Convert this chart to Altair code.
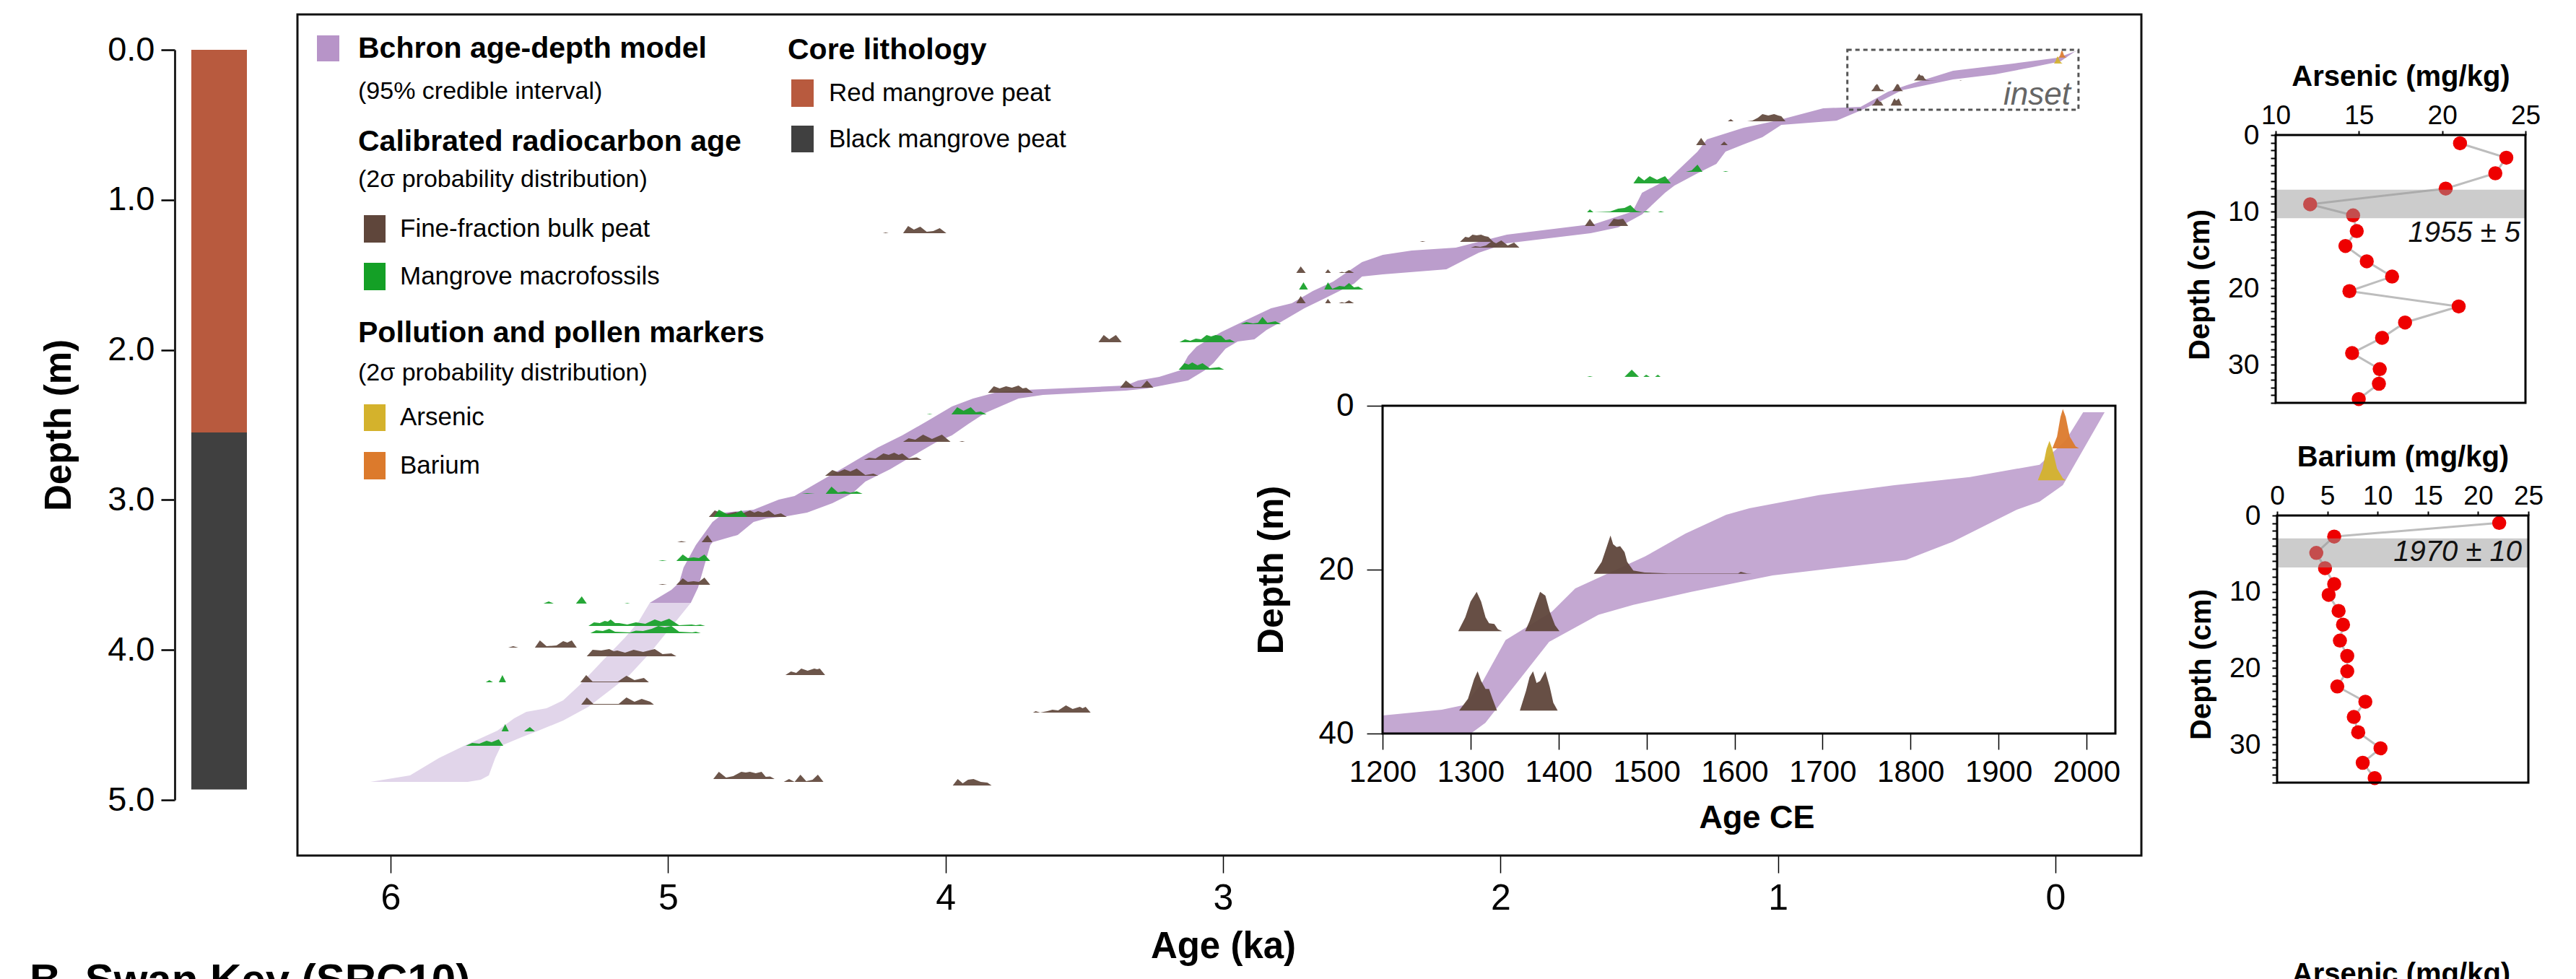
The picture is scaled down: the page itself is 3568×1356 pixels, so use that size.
import altair as alt
import pandas as pd

W, H = 3568, 1356
FONT = "Liberation Sans, Arial, sans-serif"

# ------------------------------------------------------------------ data
# core lithology (m)
litho_top = [0.0, 2.55]
litho_bottom = [2.55, 4.93]
litho_type = ["Red mangrove peat", "Black mangrove peat"]

# Bchron 95% band, upper part: older edge (top -> bottom), younger edge (bottom -> top); age ka, depth m
band_old_age = [-0.086, -0.008, 0.151, 0.369, 0.536, 0.603, 0.702, 0.837, 1.004, 1.124, 1.256, 1.290,
                1.391, 1.490, 1.524, 1.659, 1.977, 2.161, 2.320, 2.424, 2.499, 2.603, 2.676, 2.752,
                2.827, 2.915, 3.007, 3.095, 3.126, 3.155, 3.230, 3.306, 3.350, 3.649, 3.709, 3.813,
                3.901, 3.977, 4.065, 4.156, 4.245, 4.364, 4.468, 4.544, 4.601, 4.692, 4.796, 4.840,
                4.900, 4.944, 4.960, 4.988, 5.066]
band_old_depth = [0.000, 0.053, 0.091, 0.140, 0.236, 0.279, 0.380, 0.390, 0.472, 0.520, 0.597, 0.679,
                  0.857, 0.953, 1.078, 1.160, 1.232, 1.319, 1.338, 1.367, 1.415, 1.545, 1.607, 1.689,
                  1.723, 1.800, 1.882, 1.978, 2.040, 2.137, 2.180, 2.204, 2.238, 2.262, 2.267, 2.281,
                  2.324, 2.377, 2.474, 2.570, 2.652, 2.782, 2.892, 2.974, 2.998, 3.065, 3.085, 3.147,
                  3.301, 3.450, 3.551, 3.600, 3.686]
band_young_age = [4.918, 4.892, 4.848, 4.840, 4.749, 4.692, 4.645, 4.572, 4.499, 4.408, 4.335, 4.289,
                  4.200, 4.112, 4.036, 3.977, 3.917, 3.857, 3.737, 3.649, 3.350, 3.274, 3.126, 3.066,
                  3.035, 2.991, 2.947, 2.887, 2.843, 2.796, 2.707, 2.632, 2.528, 2.499, 2.424, 2.195,
                  2.078, 1.977, 1.675, 1.576, 1.490, 1.407, 1.373, 1.290, 1.222, 1.189, 1.124, 1.056,
                  0.988, 0.788, 0.702, 0.619, 0.554, 0.369, 0.218, 0.083, -0.018, -0.068]
band_young_depth = [3.686, 3.585, 3.301, 3.282, 3.234, 3.147, 3.123, 3.109, 3.085, 3.022, 2.955, 2.878,
                    2.796, 2.700, 2.618, 2.570, 2.493, 2.421, 2.324, 2.300, 2.271, 2.257, 2.204, 2.137,
                    2.089, 1.992, 1.944, 1.930, 1.867, 1.819, 1.723, 1.655, 1.559, 1.511, 1.497, 1.463,
                    1.352, 1.290, 1.222, 1.184, 1.097, 0.953, 0.905, 0.823, 0.760, 0.679, 0.630, 0.582,
                    0.500, 0.472, 0.404, 0.332, 0.269, 0.197, 0.164, 0.115, 0.077, 0.014]
# lower (extrapolated) part of the band
low_old_age = [5.066, 5.108, 5.155, 5.243, 5.319, 5.378, 5.438, 5.511, 5.555, 5.615, 5.735, 5.826, 5.930, 6.073]
low_old_depth = [3.686, 3.816, 3.917, 4.086, 4.235, 4.336, 4.389, 4.413, 4.456, 4.538, 4.639, 4.721, 4.836, 4.880]
low_young_age = [5.722, 5.675, 5.646, 5.623, 5.602, 5.527, 5.467, 5.378, 5.287, 5.199, 5.139, 5.064, 5.020, 4.960, 4.918]
low_young_depth = [4.880, 4.865, 4.836, 4.721, 4.639, 4.581, 4.538, 4.471, 4.379, 4.254, 4.167, 4.018, 3.917, 3.782, 3.686]

# inset band (age CE, depth cm)
inset_old_ce = [1996.2, 1976.4, 1946.7, 1867.5, 1781.8, 1696.0, 1616.9, 1590.5, 1544.3, 1498.2, 1419.0,
                1392.6, 1339.8, 1313.5, 1293.7, 1267.3, 1200.0, 1200.0]
inset_old_cm = [0.8, 4.2, 7.2, 8.7, 9.7, 10.9, 12.5, 13.3, 15.6, 18.4, 22.3, 25.1, 28.6, 33.7, 36.5, 37.1, 37.8, 40.0]
inset_young_ce = [1300.3, 1316.8, 1389.3, 1445.4, 1485.0, 1550.9, 1643.3, 1795.0, 1847.8, 1920.3, 1946.7, 1973.1, 2020.6]
inset_young_cm = [40.0, 38.7, 28.8, 25.5, 24.3, 22.7, 20.7, 18.8, 16.6, 12.7, 11.7, 9.7, 0.8]

# calibrated age probability distributions: kind, sample depth (m), age (ka) vertices, relative density
kind_names = ["Fine-fraction bulk peat", "Mangrove macrofossils", "Arsenic", "Barium"]
kind_colors = ["#5f463b", "#14a026", "#d4b22c", "#dc7a2c"]
date_kind = ["B", "M", "B", "M", "B", "M", "B", "M", "M", "M",
             "B", "B", "B", "M", "B", "B", "M", "M", "B", "B",
             "B", "B", "B", "B", "B", "M", "B", "M", "M", "M",
             "B", "B", "M", "B", "B", "B", "B", "B", "M", "M",
             "M", "B", "B", "M", "B", "B", "B", "Ba", "As"]
date_depth = [2.839, 2.960, 3.114, 3.114, 3.282, 3.407, 3.566, 3.691, 3.840, 3.888,
              3.985, 4.042, 4.167, 4.216, 4.216, 4.365, 4.543, 4.639, 4.860, 4.880,
              4.904, 4.418, 1.222, 1.949, 1.487, 1.598, 1.689, 1.829, 1.949, 2.132,
              2.252, 2.286, 2.430, 2.613, 2.733, 1.280, 1.319, 1.174, 1.083, 0.890,
              0.813, 0.635, 0.476, 2.180, 0.205, 0.275, 0.372, 0.052, 0.091]
date_age = [
    [4.434, 4.408, 4.388, 4.364, 4.343, 4.320, 4.289, 4.260, 4.242],
    [4.518, 4.499, 4.471, 4.432, 4.411, 4.388, 4.364, 4.343, 4.320, 4.299],
    [4.853, 4.832, 4.796, 4.757, 4.731, 4.705, 4.689, 4.676, 4.658, 4.637, 4.616, 4.593, 4.572],
    [4.835, 4.817, 4.783, 4.757, 4.736, 4.715],
    [4.967, 4.952, 4.934, 4.879, 4.858, 4.840],
    [5.035, 5.020, 5.004, 4.970, 4.947, 4.929, 4.908, 4.889, 4.869, 4.848],
    [5.035, 5.020, 5.004, 4.970, 4.947, 4.929, 4.908, 4.889, 4.869, 4.848],
    [5.449, 5.430, 5.412, 5.332, 5.311, 5.293, 5.157, 5.147, 5.137],
    [5.287, 5.267, 5.246, 5.228, 5.217, 5.207, 5.191, 5.176, 5.147, 5.116, 5.082, 5.048, 5.025, 4.996,
     4.960, 4.915, 4.900, 4.884, 4.866],
    [5.280, 5.259, 5.235, 5.212, 5.191, 5.137, 5.116, 5.090, 5.059, 5.035, 5.012, 4.988, 4.960, 4.913,
     4.900, 4.882],
    [5.576, 5.558, 5.540, 5.480, 5.462, 5.438, 5.402, 5.378, 5.363, 5.347, 5.329],
    [5.293, 5.272, 5.241, 5.212, 5.196, 5.183, 5.155, 5.124, 5.090, 5.048, 5.020, 4.988, 4.970],
    [4.577, 4.557, 4.538, 4.520, 4.497, 4.473, 4.463, 4.453, 4.434],
    [5.657, 5.644, 5.631, 5.610, 5.597, 5.584],
    [5.316, 5.295, 5.272, 5.228, 5.181, 5.150, 5.121, 5.087, 5.069],
    [5.313, 5.293, 5.269, 5.228, 5.178, 5.150, 5.121, 5.095, 5.064, 5.051],
    [5.600, 5.587, 5.574, 5.519, 5.498, 5.480],
    [5.729, 5.706, 5.680, 5.654, 5.636, 5.610, 5.594],
    [4.837, 4.817, 4.791, 4.765, 4.736, 4.720, 4.705, 4.684, 4.663, 4.648, 4.632, 4.616],
    [4.583, 4.564, 4.544, 4.523, 4.502, 4.479, 4.460, 4.440],
    [3.974, 3.956, 3.938, 3.919, 3.899, 3.873, 3.849, 3.834],
    [3.685, 3.675, 3.659, 3.633, 3.615, 3.594, 3.566, 3.542, 3.516, 3.506, 3.495, 3.477],
    [4.226, 4.216, 4.205, 4.153, 4.135, 4.114, 4.091, 4.068, 4.044, 4.021, 3.997],
    [3.449, 3.430, 3.410, 3.386, 3.365],
    [2.736, 2.720, 2.702, 2.632, 2.622, 2.611, 2.583, 2.572, 2.562, 2.546, 2.528],
    [2.726, 2.710, 2.694, 2.635, 2.622, 2.606, 2.580, 2.562, 2.546, 2.528, 2.512, 2.494],
    [2.736, 2.720, 2.702, 2.632, 2.622, 2.611, 2.583, 2.572, 2.562, 2.546, 2.528],
    [2.936, 2.916, 2.892, 2.874, 2.858, 2.840, 2.811, 2.791],
    [3.157, 3.137, 3.118, 3.098, 3.079, 3.059, 3.043, 3.027, 3.007, 2.991, 2.975, 2.957],
    [3.160, 3.139, 3.124, 3.111, 3.092, 3.074, 3.048, 3.014, 2.996],
    [3.371, 3.350, 3.321, 3.295, 3.274, 3.251],
    [3.847, 3.826, 3.805, 3.782, 3.761, 3.737, 3.722, 3.709, 3.685],
    [4.068, 4.057, 4.047, 3.979, 3.958, 3.935, 3.909, 3.891, 3.873, 3.852],
    [4.153, 4.133, 4.109, 4.081, 4.049, 4.013, 3.982, 3.951, 3.940, 3.930],
    [4.294, 4.276, 4.252, 4.224, 4.205, 4.185, 4.169, 4.156, 4.133, 4.104, 4.086],
    [2.291, 2.281, 2.270, 2.146, 2.127, 2.114, 2.101, 2.086, 2.070, 2.057, 2.044, 2.026],
    [2.107, 2.091, 2.073, 2.052, 2.031, 2.016, 1.997, 1.974, 1.951, 1.932],
    [1.696, 1.678, 1.659, 1.612, 1.592, 1.576, 1.558, 1.540],
    [1.688, 1.678, 1.665, 1.605, 1.576, 1.553, 1.532, 1.511, 1.488, 1.475, 1.459, 1.433, 1.423, 1.410],
    [1.521, 1.503, 1.482, 1.462, 1.436, 1.407, 1.386],
    [1.332, 1.311, 1.290, 1.272, 1.199, 1.189, 1.178],
    [1.295, 1.277, 1.259, 1.207, 1.194, 1.181],
    [1.181, 1.170, 1.160, 1.111, 1.092, 1.072, 1.056, 1.035, 1.014, 0.999, 0.988, 0.973],
    [1.688, 1.678, 1.667, 1.553, 1.527, 1.501, 1.485, 1.475, 1.462, 1.443, 1.433, 1.423],
    [0.510, 0.501, 0.495, 0.491, 0.488, 0.484, 0.480, 0.475, 0.472, 0.465, 0.452, 0.425, 0.346, 0.343,
     0.336, 0.330],
    [0.664, 0.656, 0.650, 0.643, 0.638, 0.633, 0.629, 0.623, 0.619, 0.614, 0.588, 0.583, 0.576, 0.571,
     0.565, 0.560, 0.554, 0.549],
    [0.663, 0.653, 0.646, 0.642, 0.638, 0.633, 0.629, 0.625, 0.620, 0.594, 0.587, 0.583, 0.579, 0.575,
     0.571, 0.565, 0.560, 0.556, 0.551],
    [-0.0112, -0.0165, -0.0204, -0.0231, -0.0264, -0.0310, -0.0376, -0.0416],
    [0.0053, 0.0000, -0.0046, -0.0079, -0.0112, -0.0165, -0.0231, -0.0264],
]
date_dens = [
    [0, 0.8, 0.5, 0.9, 0.6, 1.0, 0.1, 0.3, 0],
    [0, 0.1, 0, 0, 1.0, 0.2, 0.35, 0.15, 0.35, 0],
    [0, 0.9, 0.4, 0.7, 0.5, 0.9, 0.6, 0.8, 0.6, 0.9, 0.3, 0.5, 0],
    [0, 1.0, 0.3, 0.5, 0.9, 0],
    [0, 0.15, 0, 0, 1.0, 0],
    [0, 0.1, 0, 0, 0.9, 0.4, 0.5, 0.4, 0.9, 0],
    [0, 0.1, 0, 0, 0.9, 0.4, 0.5, 0.4, 1.0, 0],
    [0, 0.3, 0, 0, 1.0, 0, 0, 0.07, 0],
    [0, 0.5, 0.4, 0.7, 0.6, 0.9, 0.4, 0.4, 0.2, 0.5, 0.3, 0.9, 0.6, 1.0, 0.1, 0.2, 0.1, 0.2, 0],
    [0, 0.4, 0.3, 0.6, 0.2, 0.1, 0.35, 0.3, 0.6, 1.0, 0.8, 1.0, 0.2, 0.1, 0.2, 0],
    [0, 0.2, 0, 0, 1.0, 0.2, 0.3, 0.9, 0.7, 1.0, 0],
    [0, 0.9, 0.8, 1.0, 0.7, 0.8, 0.5, 0.9, 0.6, 1.0, 0.3, 0.4, 0],
    [0, 0.5, 0.3, 0.9, 0.6, 0.9, 0.8, 0.9, 0],
    [0, 0.3, 0, 0, 1.0, 0],
    [0, 1.0, 0.1, 0.1, 0.1, 0.9, 0.3, 0.6, 0],
    [0, 1.0, 0.1, 0.1, 0.1, 1.0, 0.4, 0.8, 0.4, 0],
    [0, 1.0, 0, 0, 0.6, 0],
    [0, 0.4, 0.3, 0.7, 0.5, 0.9, 0],
    [0, 1.0, 0.2, 0.4, 1.0, 0.9, 1.0, 0.8, 1.0, 0.3, 0.35, 0],
    [0, 0.4, 0, 1.0, 0.1, 0.3, 1.0, 0],
    [0, 0.9, 0.3, 0.8, 0.9, 0.5, 0.4, 0],
    [0, 0.2, 0, 0.2, 0.4, 0.3, 1.0, 0.5, 0.8, 0.6, 0.8, 0],
    [0, 0.1, 0, 0, 1.0, 0.5, 0.9, 0.2, 0.3, 0.7, 0],
    [0, 1.0, 0.4, 1.0, 0],
    [0, 0.9, 0, 0, 0.5, 0, 0, 0.15, 0.05, 0.4, 0],
    [0, 1.0, 0, 0, 1.0, 0.1, 0.5, 0.4, 0.9, 0.3, 0.4, 0],
    [0, 1.0, 0, 0, 0.6, 0, 0, 0.15, 0.05, 0.4, 0],
    [0, 0.3, 0.1, 0.2, 1.0, 0.2, 0.4, 0],
    [0, 0.4, 0.2, 0.5, 0.4, 1.0, 0.8, 1.0, 0.9, 0.3, 0.4, 0],
    [0, 0.9, 0.7, 1.0, 0.6, 0.9, 0.2, 0.35, 0],
    [0, 1.0, 0.1, 0.1, 1.0, 0],
    [0, 0.9, 0.6, 0.9, 0.7, 1.0, 0.6, 0.7, 0],
    [0, 0.07, 0, 0, 1.0, 0.5, 1.0, 0.3, 0.4, 0],
    [0, 0.5, 0.3, 1.0, 0.4, 1.0, 0, 0, 0.1, 0],
    [0, 0.3, 0.2, 0.9, 0.7, 1.0, 0.7, 0.9, 0.2, 0.35, 0],
    [0, 0.1, 0, 0, 0.7, 0.6, 1.0, 0.9, 1.0, 0.8, 0.7, 0],
    [0, 0.2, 0.1, 0.3, 0.9, 0.6, 1.0, 0.3, 0.7, 0],
    [0, 1.0, 0, 0, 1.0, 0.9, 1.0, 0],
    [0, 0.4, 0, 0.1, 0.5, 0.6, 1.0, 0.2, 0, 0.15, 0, 0, 0.15, 0],
    [0, 1.0, 0.4, 1.0, 0.5, 1.0, 0],
    [0, 0.2, 1.0, 0, 0, 0.1, 0],
    [0, 1.0, 0, 0, 0.5, 0],
    [0, 0.3, 0, 0, 0.1, 0.5, 1.0, 0.8, 1.0, 0.8, 0.7, 0],
    [0, 0.1, 0, 0, 1.0, 0, 0, 0.3, 0, 0, 0.3, 0],
    [0, 0.3, 0.7, 0.97, 0.75, 0.68, 0.7, 0.55, 0.3, 0.08, 0.03, 0.01, 0.01, 0.05, 0.01, 0],
    [0, 0.35, 0.75, 1.0, 0.75, 0.35, 0.2, 0.18, 0.05, 0, 0, 0.25, 0.7, 1.0, 0.9, 0.5, 0.15, 0],
    [0, 0.3, 0.8, 1.0, 0.75, 0.55, 0.55, 0.3, 0, 0, 0.5, 0.85, 1.0, 0.7, 0.75, 1.0, 0.6, 0.2, 0],
    [0, 0.3, 0.8, 1.0, 0.8, 0.3, 0.05, 0],
    [0, 0.3, 0.8, 1.0, 0.8, 0.3, 0.05, 0],
]

# pollution profiles (depth cm, mg/kg)
as_depth = [1.08, 2.97, 5.0, 7.0, 9.05, 10.5, 12.55, 14.5, 16.5, 18.5, 20.4, 22.4, 24.5, 26.5, 28.5, 30.6, 32.5, 34.5]
as_value = [21.07, 23.85, 23.19, 20.21, 12.07, 14.65, 14.87, 14.19, 15.47, 16.99, 14.43, 20.99, 17.77, 16.39,
            14.59, 16.25, 16.2, 14.99]
ba_depth = [0.98, 2.76, 4.9, 6.9, 8.98, 10.4, 12.5, 14.3, 16.4, 18.4, 20.4, 22.4, 24.4, 26.4, 28.4, 30.5, 32.4, 34.4]
ba_value = [22.1, 5.68, 3.9, 4.77, 5.68, 5.13, 6.12, 6.56, 6.25, 6.98, 6.98, 5.99, 8.78, 7.63, 8.07, 10.29, 8.52, 9.71]
as_window = [7.15, 10.87]
as_window_label = "1955 ± 5"
ba_window = [3.0, 6.8]
ba_window_label = "1970 ± 10"

# ------------------------------------------------------------------ styling / layout
DENS_H = 0.048          # density 1.0 drawn as 0.048 m tall
BAND_DARK = "#bb9dcc"
BAND_LIGHT = "#e1d5ea"
BAND_INSET = "#c4a8d2"
kind_code = {"B": kind_names[0], "M": kind_names[1], "As": kind_names[2], "Ba": kind_names[3]}
kind_scale = alt.Scale(domain=kind_names, range=kind_colors)

sx_main = alt.Scale(domain=[6, 0], range=[541, 2847])
sy_main = alt.Scale(domain=[0, 5], range=[69, 1108])
MAIN_BOX = (412, 2966, 20, 1185)
sx_in = alt.Scale(domain=[1200, 2000], range=[1915, 2890])
sy_in = alt.Scale(domain=[0, 40], range=[562, 1016])
IN_BOX = (1915, 2930, 562, 1016)

AX = dict(labelFont=FONT, titleFont=FONT, labelColor="black", titleColor="black",
          tickColor="black", grid=False, labelOverlap=False, labelFlush=False)


def label(text, x, y, size, weight="normal", style="normal", align="left",
          baseline="middle", color="black"):
    return alt.Chart(pd.DataFrame({"t": [text]})).mark_text(
        align=align, baseline=baseline, fontSize=size, fontWeight=weight,
        fontStyle=style, font=FONT, color=color,
    ).encode(text="t:N", x=alt.value(x), y=alt.value(y))


def box(x0, x1, y0, y1, **kw):
    return alt.Chart(pd.DataFrame({"k": [0]})).mark_rect(**kw).encode(
        x=alt.value(x0), x2=alt.value(x1), y=alt.value(y0), y2=alt.value(y1))


def polygon(xs, ys, sx, sy, color, xaxis=None, yaxis=None):
    df = pd.DataFrame({"x": xs, "y": ys, "i": list(range(len(xs)))})
    return alt.Chart(df).mark_line(filled=True, color=color, strokeWidth=0, opacity=1).encode(
        x=alt.X("x:Q", scale=sx, axis=xaxis),
        y=alt.Y("y:Q", scale=sy, axis=yaxis),
        order=alt.Order("i:Q"),
    )


rows = []
for k, (kc, dep, ages, dens) in enumerate(zip(date_kind, date_depth, date_age, date_dens)):
    for a, d in zip(ages, dens):
        rows.append({"id": k, "kind": kind_code[kc], "base": dep, "age": a, "dens": d})
dates_df = pd.DataFrame(rows)

# ------------------------------------------------------------------ main panel
main_x_axis = alt.Axis(orient="bottom", offset=-(H - MAIN_BOX[3]), values=[0, 1, 2, 3, 4, 5, 6],
                       format="d", tickSize=24, tickWidth=1.5, domain=False,
                       labelFontSize=50, labelPadding=10, title="Age (ka)", titleFontSize=51,
                       titleFontWeight="bold", titlePadding=17, **AX)

main_frame = box(MAIN_BOX[0], MAIN_BOX[1], MAIN_BOX[2], MAIN_BOX[3],
                 fillOpacity=0, stroke="#111111", strokeWidth=3)
band_dark = polygon(band_old_age + band_young_age, band_old_depth + band_young_depth,
                    sx_main, sy_main, BAND_DARK, xaxis=main_x_axis)
band_light = polygon(low_old_age + low_young_age, low_old_depth + low_young_depth,
                     sx_main, sy_main, BAND_LIGHT)
main_dates = alt.Chart(dates_df).transform_calculate(
    top=f"datum.base - datum.dens * {DENS_H}"
).mark_area(orient="vertical", opacity=0.92).encode(
    x=alt.X("age:Q", scale=sx_main, axis=None),
    y=alt.Y("top:Q", scale=sy_main, axis=None, stack=False),
    y2="base:Q",
    color=alt.Color("kind:N", scale=kind_scale, legend=None),
    detail="id:N",
)
inset_outline_df = pd.DataFrame({"a0": [(1950 - 1200) / 1000], "a1": [(1950 - 2033) / 1000],
                                 "d0": [0.0], "d1": [0.40]})
inset_outline = alt.Chart(inset_outline_df).mark_rect(
    fillOpacity=0, stroke="#555555", strokeWidth=3, strokeDash=[6, 5]
).encode(
    x=alt.X("a0:Q", scale=sx_main, axis=None), x2="a1:Q",
    y=alt.Y("d0:Q", scale=sy_main, axis=None), y2="d1:Q",
)
inset_word = label("inset", 2868, 145, 44, style="italic", align="right",
                   baseline="alphabetic", color="#666666")

main_layers = [main_frame, band_dark, band_light, main_dates, inset_outline, inset_word]

# ------------------------------------------------------------------ inset panel
in_x_axis = alt.Axis(orient="bottom", offset=-(H - IN_BOX[3]),
                     values=[1200, 1300, 1400, 1500, 1600, 1700, 1800, 1900, 2000], format="d",
                     tickSize=22, tickWidth=1.5, domain=False, labelFontSize=42, labelPadding=11,
                     title="Age CE", titleFontSize=45, titleFontWeight="bold", titlePadding=20,
                     titleX=2433, **AX)
in_y_axis = alt.Axis(orient="left", offset=-IN_BOX[0], values=[0, 20, 40], format="d",
                     tickSize=22, tickWidth=1.5, domain=False, labelFontSize=44, labelPadding=18,
                     title="Depth (m)", titleFontSize=50, titleFontWeight="bold", titlePadding=40,
                     **AX)
inset_bg = box(IN_BOX[0], IN_BOX[1], IN_BOX[2], IN_BOX[3], color="white")
inset_band = polygon(inset_old_ce + inset_young_ce, inset_old_cm + inset_young_cm,
                     sx_in, sy_in, BAND_INSET, xaxis=in_x_axis, yaxis=in_y_axis)
inset_dates = alt.Chart(dates_df).transform_filter("datum.base < 0.4").transform_calculate(
    ce="1950 - 1000 * datum.age",
    top_cm=f"100 * (datum.base - datum.dens * {DENS_H})",
    base_cm="100 * datum.base",
).mark_area(orient="vertical", opacity=0.95).encode(
    x=alt.X("ce:Q", scale=sx_in, axis=None),
    y=alt.Y("top_cm:Q", scale=sy_in, axis=None, stack=False),
    y2="base_cm:Q",
    color=alt.Color("kind:N", scale=kind_scale, legend=None),
    detail="id:N",
)
inset_frame = box(IN_BOX[0], IN_BOX[1], IN_BOX[2], IN_BOX[3],
                  fillOpacity=0, stroke="black", strokeWidth=3)
inset_layers = [inset_bg, inset_band, inset_dates, inset_frame]

# ------------------------------------------------------------------ lithology column
litho_df = pd.DataFrame({"top": litho_top, "bottom": litho_bottom, "type": litho_type})
litho_axis = alt.Axis(orient="left", offset=-242, values=[0, 1, 2, 3, 4, 5], format=".1f",
                      tickSize=19, tickWidth=2.5, domainWidth=3, domainColor="#222222",
                      labelFontSize=47, labelPadding=9, title="Depth (m)", titleFontSize=51,
                      titleFontWeight="bold", titlePadding=40, **AX)
litho = alt.Chart(litho_df).mark_rect().encode(
    x=alt.value(265), x2=alt.value(342),
    y=alt.Y("top:Q", scale=alt.Scale(domain=[0, 5], range=[69, 1108]), axis=litho_axis),
    y2="bottom:Q",
    color=alt.Color("type:N", scale=alt.Scale(domain=litho_type, range=["#b85a3e", "#404040"]),
                    legend=None),
)


# ------------------------------------------------------------------ profile panels
def profile(depth, value, xdom, xvals, xr, yr, title, window, window_label, lab_xy, title_y):
    df = pd.DataFrame({"depth": depth, "value": value})
    sx = alt.Scale(domain=xdom, range=xr)
    sy = alt.Scale(domain=[0, 35], range=yr)
    xaxis = alt.Axis(orient="top", offset=-yr[0], values=xvals, format="d", tickSize=6,
                     tickWidth=2, domain=False, labelFontSize=37, labelPadding=2, title=title,
                     titleFontSize=40, titleFontWeight="bold", titlePadding=15, **AX)
    yaxis = alt.Axis(orient="left", offset=-xr[0], values=list(range(0, 36)),
                     labelExpr="datum.value % 10 === 0 ? datum.label : ''", tickSize=7,
                     tickWidth=2, domain=False, labelFontSize=39, labelPadding=16,
                     title="Depth (cm)", titleFontSize=40, titleFontWeight="bold",
                     titlePadding=18, titleY=title_y, **AX)
    line = alt.Chart(df).mark_line(color="#bdbdbd", strokeWidth=3).encode(
        x=alt.X("value:Q", scale=sx, axis=xaxis),
        y=alt.Y("depth:Q", scale=sy, axis=yaxis),
        order=alt.Order("depth:Q"),
    )
    pts = alt.Chart(df).mark_circle(size=380, color="#ee0000", opacity=1).encode(
        x=alt.X("value:Q", scale=sx, axis=None),
        y=alt.Y("depth:Q", scale=sy, axis=None),
    )
    wdf = pd.DataFrame({"lo": [window[0]], "hi": [window[1]], "a": [xdom[0]], "b": [xdom[1]]})
    shade = alt.Chart(wdf).mark_rect(color="#999999", opacity=0.5).encode(
        x=alt.X("a:Q", scale=sx, axis=None), x2="b:Q",
        y=alt.Y("lo:Q", scale=sy, axis=None), y2="hi:Q",
    )
    frame = box(xr[0], xr[1], yr[0], yr[1], fillOpacity=0, stroke="black", strokeWidth=3)
    txt = label(window_label, lab_xy[0], lab_xy[1], 40, style="italic", align="right",
                color="#111111")
    return [line, pts, shade, frame, txt]


as_layers = profile(as_depth, as_value, [10, 25], [10, 15, 20, 25], [3152, 3498], [187, 558],
                    "Arsenic (mg/kg)", as_window, as_window_label, (3491, 323), 394)
ba_layers = profile(ba_depth, ba_value, [0, 25], [0, 5, 10, 15, 20, 25], [3154, 3502], [714, 1084],
                    "Barium (mg/kg)", ba_window, ba_window_label, (3493, 765), 920)

# ------------------------------------------------------------------ legend and captions
legend = [
    box(439, 470, 49, 85, color="#b794c8"),
    label("Bchron age-depth model", 496, 68, 41, weight="bold"),
    label("(95% credible interval)", 496, 127, 34),
    label("Calibrated radiocarbon age", 496, 197, 41, weight="bold"),
    label("(2σ probability distribution)", 496, 249, 34),
    box(504, 534, 298, 336, color=kind_colors[0]),
    label("Fine-fraction bulk peat", 554, 317, 35),
    box(504, 534, 364, 402, color=kind_colors[1]),
    label("Mangrove macrofossils", 554, 383, 35),
    label("Pollution and pollen markers", 496, 462, 41, weight="bold"),
    label("(2σ probability distribution)", 496, 517, 34),
    box(504, 534, 560, 597, color=kind_colors[2]),
    label("Arsenic", 554, 578, 35),
    box(504, 534, 626, 664, color=kind_colors[3]),
    label("Barium", 554, 645, 35),
    label("Core lithology", 1091, 70, 41, weight="bold"),
    box(1096, 1127, 110, 148, color="#b85a3e"),
    label("Red mangrove peat", 1148, 129, 35),
    box(1096, 1127, 174, 211, color="#404040"),
    label("Black mangrove peat", 1148, 193, 35),
    label("B. Swan Key (SRC10)", 41, 1377, 60, weight="bold", baseline="alphabetic"),
    label("Arsenic (mg/kg)", 3326, 1362, 40, weight="bold", align="center", baseline="alphabetic"),
]

chart = alt.layer(
    *main_layers, *inset_layers, litho, *as_layers, *ba_layers, *legend
).resolve_scale(
    x="independent", y="independent", color="independent"
).resolve_axis(
    x="independent", y="independent"
).properties(
    width=W, height=H, padding=0, background="white",
    autosize=alt.AutoSizeParams(type="none"),
).configure_view(stroke=None)

chart.save("out.html", embed_options={"renderer": "svg", "actions": False})
